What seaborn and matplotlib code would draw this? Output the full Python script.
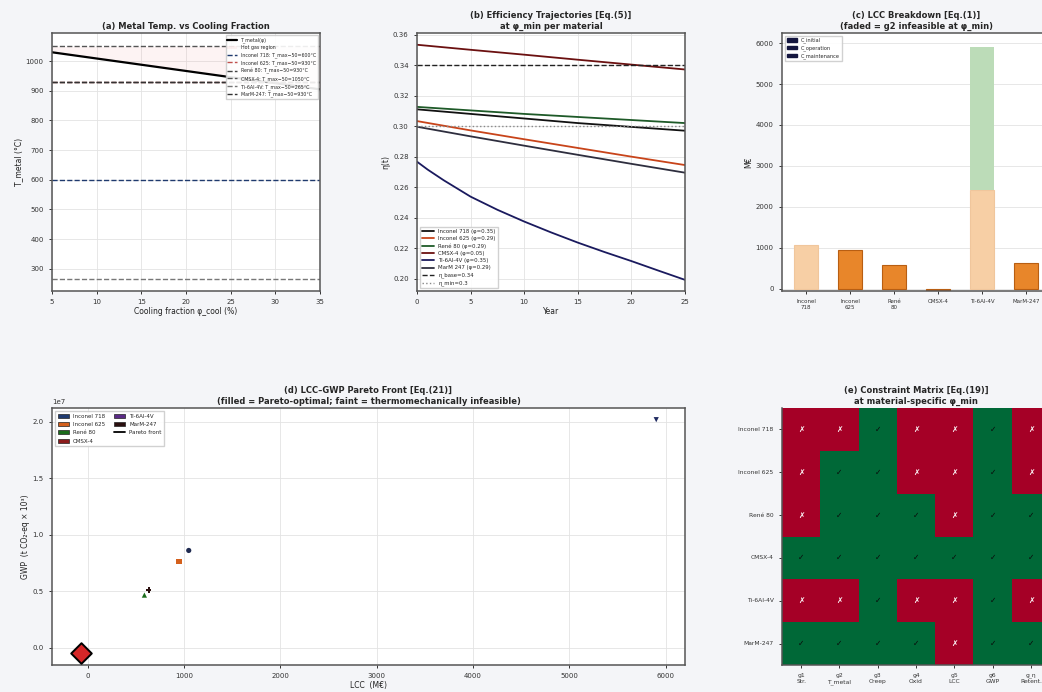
import numpy as np
import pandas as pd
import matplotlib
matplotlib.use("Agg")
import matplotlib.pyplot as plt
import seaborn as sns
from matplotlib.patches import Patch
from matplotlib.lines import Line2D

# ---------------- data ----------------
materials = ["Inconel 718", "Inconel 625", "René 80", "CMSX-4", "Ti-6Al-4V", "MarM-247"]
phi_min = [0.35, 0.29, 0.29, 0.05, 0.35, 0.29]
t_limit = [600, 930, 930, 1050, 265, 930]

phi_cool = [5, 10, 15, 20, 25, 30, 35]
t_metal = [1030, 1009, 988, 967, 946, 926, 905]

years = [0, 5, 10, 15, 20, 25]
eta_in718 = [0.311, 0.308, 0.305, 0.302, 0.2995, 0.297]
eta_in625 = [0.3033, 0.2972, 0.2914, 0.2857, 0.2800, 0.2745]
eta_rene80 = [0.3126, 0.3103, 0.308, 0.306, 0.304, 0.302]
eta_cmsx4 = [0.3533, 0.350, 0.3468, 0.3435, 0.3403, 0.3371]
years_ti = [0, 1, 2.5, 5, 7.5, 10, 12.5, 15, 17.5, 20, 22.5, 25]
eta_ti64 = [0.2767, 0.2715, 0.2645, 0.2538, 0.2452, 0.2375, 0.2304, 0.2237, 0.2175, 0.2116, 0.2054, 0.1993]
eta_marm = [0.2996, 0.2933, 0.2872, 0.2812, 0.2753, 0.2695]
eta_base = 0.34
eta_min = 0.30

bar_labels = ["Inconel\n718", "Inconel\n625", "René\n80", "CMSX-4", "Ti-6Al-4V", "MarM-247"]
c_initial = [1056, 934, 585, -50, 2400, 634]
c_operation = [0, 0, 0, 0, 3517, 0]
c_maintenance = [0, 0, 0, 0, 0, 0]
g2_feasible = [False, True, True, True, False, True]

lcc = [1050, 950, 590, -70, 5900, 635]
gwp = [0.86e7, 0.765e7, 0.465e7, -0.05e7, 2.017e7, 0.51e7]
pareto_optimal = [False, False, False, True, False, False]

constraint_names = ["g1\nStr.", "g2\nT_metal", "g3\nCreep", "g4\nOxid", "g5\nLCC", "g6\nGWP", "g_η\nRetent."]
constraint_matrix = [
    [0, 0, 1, 0, 0, 1, 0],
    [0, 1, 1, 0, 0, 1, 0],
    [0, 1, 1, 1, 0, 1, 1],
    [1, 1, 1, 1, 1, 1, 1],
    [0, 0, 1, 0, 0, 1, 0],
    [1, 1, 1, 1, 0, 1, 1],
]

# ---------------- style ----------------
sns.set_theme(style="whitegrid")
plt.rcParams.update({
    "font.family": ["DejaVu Sans"],
    "axes.edgecolor": "#555555",
    "axes.linewidth": 1.1,
    "grid.color": "#e3e3e3",
    "grid.linewidth": 0.6,
    "xtick.major.size": 2.5,
    "ytick.major.size": 2.5,
    "xtick.major.width": 0.7,
    "ytick.major.width": 0.7,
    "xtick.bottom": True,
    "ytick.left": True,
    "xtick.color": "#333333",
    "ytick.color": "#333333",
    "xtick.labelsize": 5,
    "ytick.labelsize": 5,
    "axes.labelsize": 5.5,
    "axes.labelcolor": "#222222",
})

fig = plt.figure(figsize=(10.42, 6.92), dpi=100)
fig.patch.set_facecolor("#f4f5f8")

W, H = 1042.0, 692.0
def pos(x0, y0, x1, y1):
    return [x0 / W, 1 - y1 / H, (x1 - x0) / W, (y1 - y0) / H]

ax_a = fig.add_axes(pos(52, 33, 320, 291))
ax_b = fig.add_axes(pos(417, 33, 685, 291))
ax_c = fig.add_axes(pos(782, 33, 1050, 291))
ax_d = fig.add_axes(pos(52, 408, 685, 665))
ax_e = fig.add_axes(pos(782, 408, 1050, 665))

title_kw = dict(fontsize=6, fontweight="bold", pad=3)

# ---------------- (a) ----------------
limit_colors = ["#1f3a6e", "#c0504d", "#444444", "#555555", "#777777", "#333333"]
sns.lineplot(x=phi_cool, y=t_metal, ax=ax_a, color="black", lw=1.6, label="T_metal(φ)")
ax_a.fill_between(phi_cool, t_metal, 1050, color="#f4a0a0", alpha=0.12, lw=0, label="Hot gas region")
for m, tl, col in zip(materials, t_limit, limit_colors):
    ax_a.axhline(tl, color=col, ls="--", lw=1.0, label=f"{m}: T_max−50={tl}°C")
ax_a.set_xlim(5, 35)
ax_a.set_ylim(225, 1095)
ax_a.set_xticks(range(5, 36, 5))
ax_a.set_yticks(range(300, 1001, 100))
ax_a.set_xlabel("Cooling fraction φ_cool (%)", labelpad=1)
ax_a.set_ylabel("T_metal (°C)", labelpad=2)
ax_a.set_title("(a) Metal Temp. vs Cooling Fraction", **title_kw)
ax_a.legend(loc="upper right", fontsize=3.4, framealpha=0.9, borderpad=0.4,
            handlelength=2.0, labelspacing=0.45, edgecolor="#cccccc", fancybox=False)

# ---------------- (b) ----------------
b_colors = ["#111111", "#c8441a", "#1e5a28", "#6b1010", "#1a1a5e", "#2e2e3e"]
series_b = [(years, eta_in718), (years, eta_in625), (years, eta_rene80),
            (years, eta_cmsx4), (years_ti, eta_ti64), (years, eta_marm)]
b_names = ["Inconel 718", "Inconel 625", "René 80", "CMSX-4", "Ti-6Al-4V", "MarM 247"]
for name, ph, col, (xx, yy) in zip(b_names, phi_min, b_colors, series_b):
    sns.lineplot(x=xx, y=yy, ax=ax_b, color=col, lw=1.3, label=f"{name} (φ={ph:.2f})")
ax_b.axhline(eta_base, color="#222222", ls="--", lw=1.0, label=f"η_base={eta_base:g}")
ax_b.axhline(eta_min, color="#888888", ls=":", lw=1.0, label=f"η_min={eta_min:g}")
ax_b.set_xlim(0, 25)
ax_b.set_ylim(0.192, 0.361)
ax_b.set_xticks(range(0, 26, 5))
ax_b.set_yticks(np.arange(0.20, 0.361, 0.02))
ax_b.set_xlabel("Year", labelpad=1)
ax_b.set_ylabel("η(t)", labelpad=2)
ax_b.set_title("(b) Efficiency Trajectories [Eq.(5)]\nat φ_min per material", **title_kw)
ax_b.legend(loc="lower left", fontsize=3.9, framealpha=0.9, borderpad=0.4,
            handlelength=2.2, labelspacing=0.4, edgecolor="#cccccc", fancybox=False)

# ---------------- (c) ----------------
x_idx = np.arange(len(materials))
bw = 0.55
init_cols = ["#e8862a" if f else "#f7cfa5" for f in g2_feasible]
init_cols[3] = "#c8621a"
init_edges = ["#b85e12" if f else "#f0c69c" for f in g2_feasible]
op_cols = ["#4a9e4a" if f else "#bcdcb8" for f in g2_feasible]
ax_c.bar(x_idx, c_initial, width=bw, color=init_cols, edgecolor=init_edges, lw=0.8)
bottom_op = np.array(c_initial, dtype=float)
bottom_op[bottom_op < 0] = 0
ax_c.bar(x_idx, c_operation, width=bw, bottom=bottom_op, color=op_cols, lw=0)
bottom_m = bottom_op + np.array(c_operation)
ax_c.bar(x_idx, c_maintenance, width=bw, bottom=bottom_m, color="#8c6bb1", lw=0)
ax_c.set_xlim(-0.55, 5.55)
ax_c.set_ylim(-60, 6250)
ax_c.set_xticks(x_idx)
ax_c.set_xticklabels(bar_labels, fontsize=4)
ax_c.set_yticks(range(0, 6001, 1000))
ax_c.grid(axis="x", visible=False)
ax_c.set_ylabel("M€", labelpad=2)
ax_c.set_title("(c) LCC Breakdown [Eq.(1)]\n(faded = g2 infeasible at φ_min)", **title_kw)
navy = "#14163f"
ax_c.legend(handles=[Patch(color=navy, label="C_initial"),
                     Patch(color=navy, label="C_operation"),
                     Patch(color=navy, label="C_maintenance")],
            loc="upper left", fontsize=3.6, framealpha=0.9, borderpad=0.4,
            handlelength=2.0, labelspacing=0.45, edgecolor="#cccccc", fancybox=False)

# ---------------- (d) ----------------
d_colors = ["#1f3a70", "#d4601c", "#1a6b1a", "#8b1a1a", "#5b2a86", "#2a0f0f"]
marker_fill = ["#1f2a50", "#d4601c", "#1a6b1a", "#d62728", "#1f2a60", "#2a0f0f"]
markers = ["o", "s", "^", "D", "v", "P"]
df_d = pd.DataFrame({"LCC": lcc, "GWP": gwp, "Material": materials})
for i, m in enumerate(materials):
    sub = df_d[df_d["Material"] == m]
    if pareto_optimal[i]:
        sns.scatterplot(data=sub, x="LCC", y="GWP", ax=ax_d, marker=markers[i], s=110,
                        color=marker_fill[i], edgecolor="black", linewidth=1.4, zorder=5, legend=False)
    else:
        sns.scatterplot(data=sub, x="LCC", y="GWP", ax=ax_d, marker=markers[i], s=14,
                        color=marker_fill[i], edgecolor="none", zorder=4, legend=False)
pf = df_d[np.array(pareto_optimal)].sort_values("LCC")
ax_d.plot(pf["LCC"], pf["GWP"], color="black", lw=1.3)
ax_d.set_xticks(range(0, 6001, 1000))
ax_d.set_xlabel("LCC  (M€)", labelpad=1)
ax_d.set_ylabel("GWP  (t CO₂-eq × 10³)", labelpad=2)
ax_d.yaxis.get_offset_text().set_fontsize(5)
ax_d.set_title("(d) LCC–GWP Pareto Front [Eq.(21)]\n(filled = Pareto-optimal; faint = thermomechanically infeasible)", **title_kw)
d_handles = [Patch(facecolor=c, edgecolor="#222222", lw=0.5, label=m) for m, c in zip(materials, d_colors)]
d_handles.append(Line2D([0], [0], color="black", lw=1.3, label="Pareto front"))
ax_d.legend(handles=d_handles, loc="upper left", ncol=2, fontsize=4, framealpha=0.9,
            borderpad=0.5, handlelength=2.0, labelspacing=0.6, columnspacing=1.5,
            edgecolor="#cccccc", fancybox=False)

# ---------------- (e) ----------------
mat = np.array(constraint_matrix)
annot = np.where(mat == 1, "✓", "✗")
sns.heatmap(mat, ax=ax_e, cmap="RdYlGn", vmin=0, vmax=1, cbar=False,
            annot=annot, fmt="", annot_kws={"fontsize": 5.5, "fontweight": "bold"},
            xticklabels=constraint_names, yticklabels=["Inconel 718", "Inconel 625", "René 80", "CMSX-4", "Ti-6Al-4V", "MarM-247"])
for t in ax_e.texts:
    t.set_color("white" if t.get_text() == "✗" else "#0a0a0a")
ax_e.tick_params(axis="both", labelsize=4.3, length=2.5)
ax_e.set_yticklabels(ax_e.get_yticklabels(), rotation=0)
ax_e.set_xticklabels(ax_e.get_xticklabels(), rotation=0)
for sp in ["left", "bottom"]:
    ax_e.spines[sp].set_visible(True)
    ax_e.spines[sp].set_color("#555555")
ax_e.set_title("(e) Constraint Matrix [Eq.(19)]\nat material-specific φ_min", **title_kw)

fig.savefig("out.png", dpi=100, facecolor=fig.get_facecolor())
